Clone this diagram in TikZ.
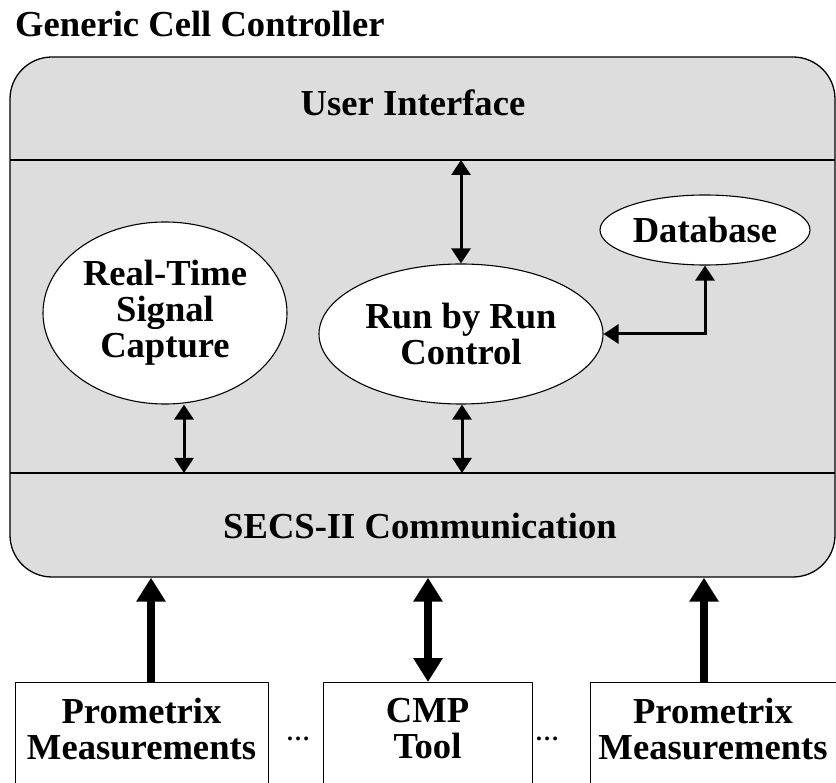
\documentclass[tikz,border=0pt]{standalone}
\usepackage{fontspec}
\setmainfont{Liberation Serif}
\usetikzlibrary{shapes.geometric,arrows.meta}
\definecolor{panelgray}{RGB}{221,221,221}

\begin{document}
\begin{tikzpicture}[x=1pt,y=-1pt,
  every node/.style={font=\fontsize{36.6}{36}\selectfont\bfseries, align=center, inner sep=0pt},
  panel/.style={draw, line width=1.3pt, fill=panelgray, rounded corners=42pt, rectangle},
  divider/.style={line width=2.5pt},
  blob/.style={ellipse, draw, line width=1.1pt, fill=white},
  link/.style={line width=3pt, {Triangle[width=19pt,length=15pt]}-{Triangle[width=19pt,length=15pt]}},
  feed/.style={line width=8pt, -{Triangle[width=28pt,length=24pt]}},
  duplex/.style={line width=8pt, {Triangle[width=28pt,length=24pt]}-{Triangle[width=28pt,length=24pt]}},
  unit/.style={draw, line width=1.4pt, rectangle},
  dots/.style={font=\fontsize{24}{24}\selectfont\bfseries}]

  % page frame
  \path[use as bounding box] (0,0) rectangle (836,783);
  \clip (0,0) rectangle (836,783);

  % title
  \node[anchor=base west] (title) at (15,37) {Generic Cell Controller};

  % controller panel with its three bands
  \node[panel, minimum width=825pt, minimum height=520pt] (ctrl) at (422.5,317) {};
  \coordinate (uiL) at (10,160);
  \coordinate (uiR) at (835,160);
  \coordinate (scL) at (10,473);
  \coordinate (scR) at (835,473);
  \draw[divider] (uiL) -- (uiR);
  \draw[divider] (scL) -- (scR);

  \node[anchor=base] (ui) at (413,116) {User Interface};
  \node[anchor=base] (secs) at (420,539) {SECS-II Communication};

  % modules inside the controller
  \node[blob, minimum width=244pt, minimum height=182pt] (rtc) at (165,313)
    {Real-Time\\Signal\\Capture};
  \node[blob, minimum width=284pt, minimum height=140pt] (rbr) at (461,334)
    {Run by Run\\Control};
  \node[blob, minimum width=210pt, minimum height=70pt] (db) at (705,230)
    {Database};

  % internal connections
  \coordinate (uiTap) at (461,160);
  \coordinate (scTapA) at (184,473);
  \coordinate (scTapB) at (462,473);
  \draw[link] (uiTap) -- (rbr.north);
  \draw[link] (rbr.east) -| (db.south);
  \draw[link] (rtc.south -| scTapA) -- (scTapA);
  \draw[link] (rbr.south -| scTapB) -- (scTapB);

  % equipment on the shop floor
  \node[unit, minimum width=253pt, minimum height=130pt, anchor=north west] (pm1) at (15,682) {};
  \node[unit, minimum width=209pt, minimum height=130pt, anchor=north west] (cmp) at (323,682) {};
  \node[unit, minimum width=260pt, minimum height=130pt, anchor=north west] (pm2) at (590,682) {};

  \node (pm1t) at (141.5,729) {Prometrix\\Measurements};
  \node (cmpt) at (427.5,729) {CMP\\Tool};
  \node (pm2t) at (713,729) {Prometrix\\Measurements};

  \node[dots] (gap1) at (298,739) {…};
  \node[dots] (gap2) at (547,739) {…};

  % links between equipment and controller
  \coordinate (pm1Tap) at (151,682);
  \coordinate (cmpTap) at (428,682);
  \coordinate (pm2Tap) at (704,682);
  \draw[feed] (pm1Tap) -- (pm1Tap |- ctrl.south);
  \draw[duplex] (cmpTap) -- (cmpTap |- ctrl.south);
  \draw[feed] (pm2Tap) -- (pm2Tap |- ctrl.south);
\end{tikzpicture}
\end{document}
